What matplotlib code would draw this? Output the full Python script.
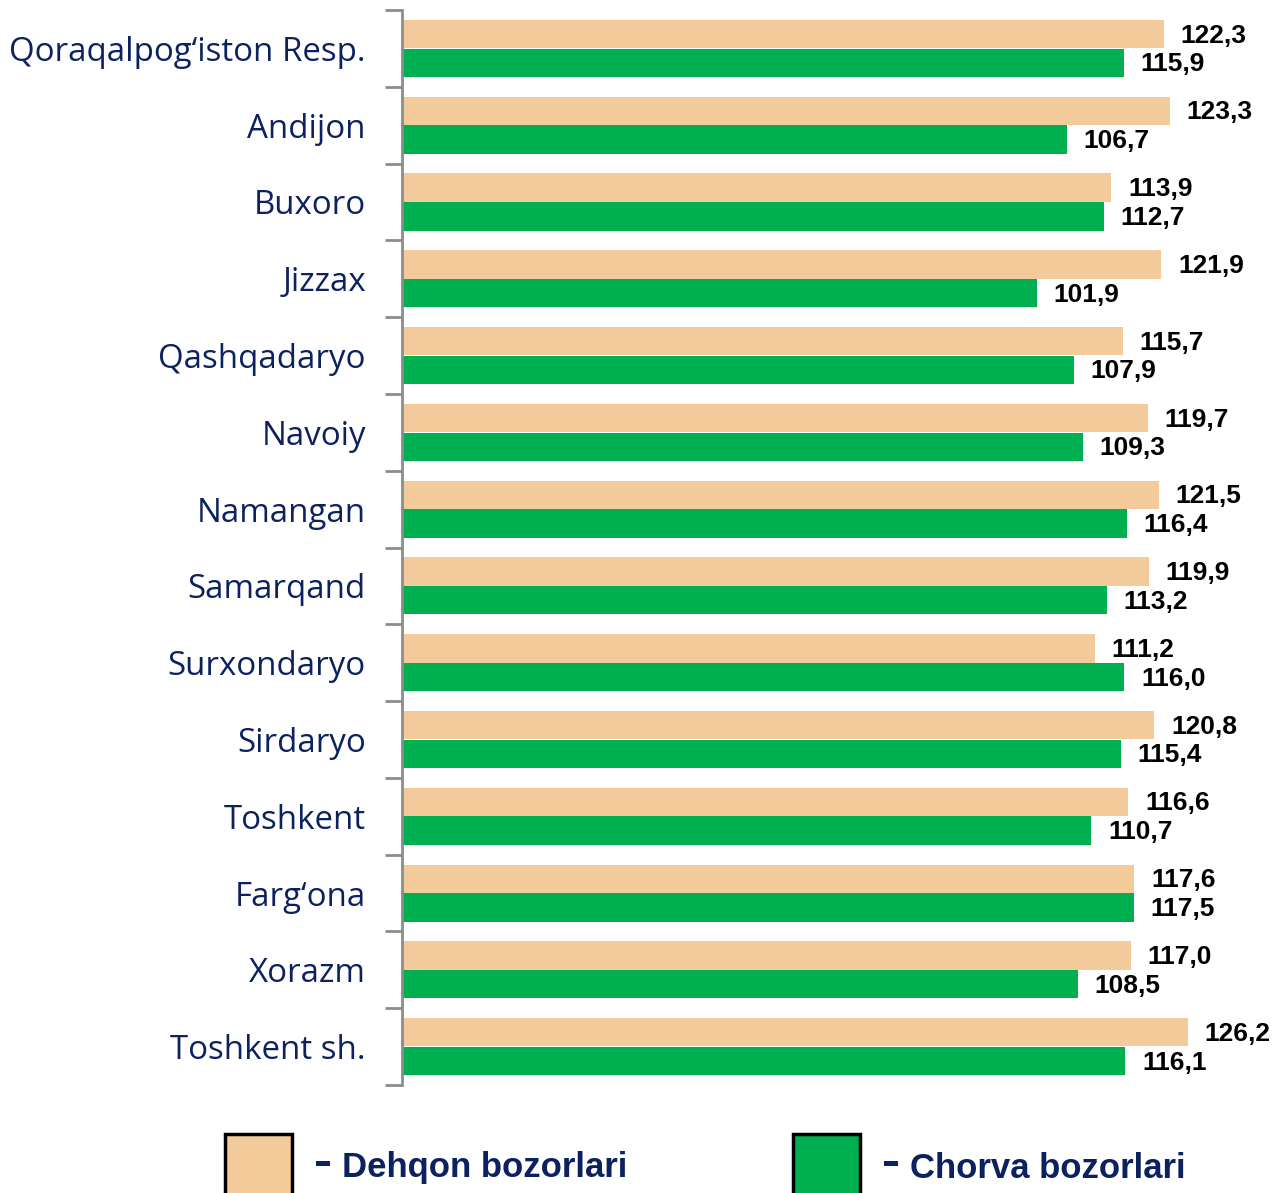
import numpy as np
import matplotlib
matplotlib.use("Agg")
import matplotlib.pyplot as plt
from matplotlib.patches import Rectangle

regions = ["Qoraqalpog\u2018iston Resp.", "Andijon", "Buxoro", "Jizzax", "Qashqadaryo",
           "Navoiy", "Namangan", "Samarqand", "Surxondaryo", "Sirdaryo",
           "Toshkent", "Farg\u2018ona", "Xorazm", "Toshkent sh."]
dehqon = [122.3, 123.3, 113.9, 121.9, 115.7, 119.7, 121.5, 119.9, 111.2, 120.8,
          116.6, 117.6, 117.0, 126.2]
chorva = [115.9, 106.7, 112.7, 101.9, 107.9, 109.3, 116.4, 113.2, 116.0, 115.4,
          110.7, 117.5, 108.5, 116.1]
legend_labels = ["Dehqon bozorlari", "Chorva bozorlari"]

c_orange = "#F3CB9B"
c_green = "#00B050"
navy = "#0B2160"


def fmt(v):
    return f"{v:.1f}".replace(".", ",")


fig = plt.figure(figsize=(12.85, 11.93), dpi=100)
ax = fig.add_axes([0.3128, 0.0905, 0.9914 - 0.3128, 0.9916 - 0.0905])

y = np.arange(len(regions))
h = 0.37
off = 0.187
ax.barh(y - off, dehqon, height=h, color=c_orange)
ax.barh(y + off, chorva, height=h, color=c_green)

for yi, d, c in zip(y, dehqon, chorva):
    ax.text(d + 2.7, yi - off + 0.02, fmt(d), va="center", ha="left",
            fontsize=19, fontweight="bold", family="Liberation Sans", color="black")
    ax.text(c + 2.7, yi + off + 0.02, fmt(c), va="center", ha="left",
            fontsize=19, fontweight="bold", family="Liberation Sans", color="black")

ax.set_xlim(0, 140)
ax.set_ylim(len(regions) - 0.5, -0.5)

for s in ["top", "right", "bottom"]:
    ax.spines[s].set_visible(False)
ax.spines["left"].set_color("#8C8C8C")
ax.spines["left"].set_linewidth(2)
ax.set_xticks([])

ax.set_yticks(y)
ax.set_yticklabels(regions, fontsize=23.8, family="Open Sans", color=navy)
ax.tick_params(axis="y", which="major", length=0, pad=26)
ax.set_yticks(np.arange(len(regions) + 1) - 0.5, minor=True)
ax.tick_params(axis="y", which="minor", length=12, width=2, color="#8C8C8C")

# legend drawn by hand below the plot
W, H = 1285, 1193
boxes = [(225, c_orange, 316, 342), (793, c_green, 884, 910)]
for (bx, col, dx, tx), lab in zip(boxes, legend_labels):
    fig.add_artist(Rectangle((bx / W, -0.01), 67 / W, (H - 1134 + 12) / H,
                             transform=fig.transFigure, facecolor=col,
                             edgecolor="black", linewidth=2.5, clip_on=False))
    fig.add_artist(Rectangle((dx / W, (H - 1166) / H), 14 / W, 5 / H,
                             transform=fig.transFigure, facecolor=navy,
                             edgecolor="none"))
    fig.text(tx / W, (H - 1168) / H, lab, fontsize=25, fontweight="bold",
             family="Liberation Sans", color=navy, va="center", ha="left")

fig.savefig("out.png", dpi=100)
